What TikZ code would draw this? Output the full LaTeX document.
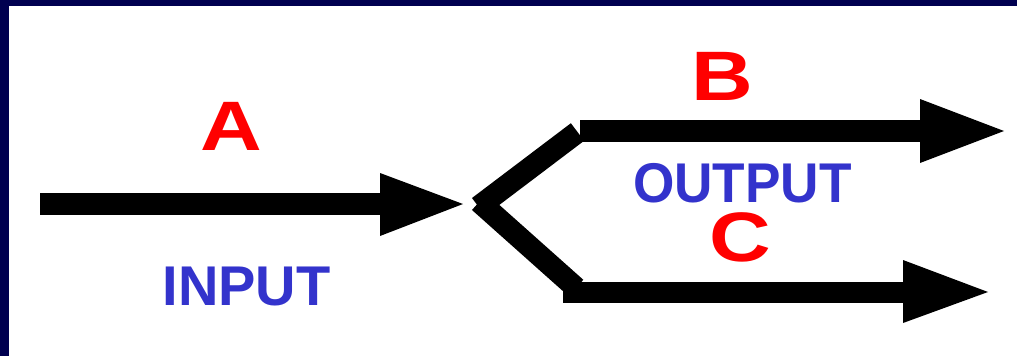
\documentclass[tikz,border=0pt]{standalone}
\usepackage{fontspec}
\setmainfont{Liberation Sans}
\definecolor{frame}{HTML}{000050}
\definecolor{lblred}{HTML}{FF0000}
\definecolor{lblblue}{HTML}{3333CC}
\tikzset{
  shaft/.style={line width=22pt, line cap=butt, black},
  head/.style={fill=black, draw=none},
  letter/.style={anchor=base, inner sep=0pt, text=lblred, text height=50pt, text depth=0pt,
    font=\bfseries\fontsize{70}{70}\selectfont, xscale=1.22},
  word/.style={anchor=base, inner sep=0pt, text=lblblue, text height=40pt, text depth=0pt,
    font=\bfseries\fontsize{56}{56}\selectfont},
}
\begin{document}
\begin{tikzpicture}[x=1pt, y=-1pt]
  \useasboundingbox (0,0) rectangle (1017,356);
  % frame along the top and left edges
  \fill[frame] (0,0) rectangle (1017,6);
  \fill[frame] (0,0) rectangle (9,356);

  % input arrow
  \coordinate (inS) at (40,204);
  \coordinate (inE) at (381,204);
  \draw[shaft] (inS) -- (inE);
  \fill[head] (380,173) -- (463,204) -- (380,236) -- cycle;

  % fork
  \coordinate (forkU) at (478.6,206.8);
  \coordinate (bendU) at (577.5,132);
  \coordinate (forkL) at (479.3,201.8);
  \coordinate (bendL) at (576,288);
  \draw[shaft] (forkU) -- (bendU);
  \draw[shaft] (forkL) -- (bendL);

  % upper output arrow
  \coordinate (upS) at (580,131);
  \coordinate (upE) at (921,131);
  \draw[shaft] (upS) -- (upE);
  \fill[head] (920,99) -- (1004,131) -- (920,163) -- cycle;

  % lower output arrow
  \coordinate (loS) at (563,292);
  \coordinate (loE) at (904,292);
  \draw[shaft, line width=21pt] (loS) -- (loE);
  \fill[head] (903,260) -- (988,292) -- (903,323) -- cycle;

  % labels
  \node[letter] (lA) at (231.5,150) {A};
  \node[letter] (lB) at (722.5,100) {B};
  \node[letter] (lC) at (740,261) {C};
  \node[word] (lIn) at (246.5,305) {INPUT};
  \node[word, xscale=0.95] (lOut) at (742.5,202) {OUTPUT};
\end{tikzpicture}
\end{document}
